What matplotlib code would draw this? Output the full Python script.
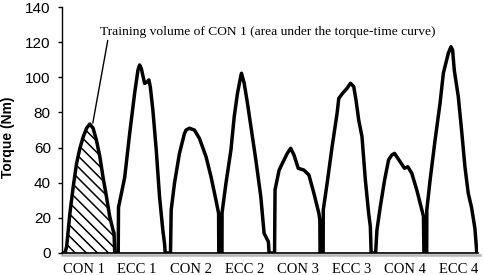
"""
Torque-time trace of 4 CON / ECC repetitions, training volume of CON 1 hatched.
Output: out.png
"""
import matplotlib
matplotlib.use("Agg")
import matplotlib.pyplot as plt
import numpy as np
from matplotlib.transforms import offset_copy

# ── Data: time (samples) and torque (Nm) per repetition ──────────────────────
con1_t  = [3, 4.7, 8, 11.3, 14.7, 18, 21.3, 24.7, 28, 31.3, 34.7, 38, 41.3, 44.7, 48, 51.3, 52.3, 53]
con1_nm = [0, 3.6, 22.7, 37.7, 51, 59.6, 66, 71, 73.4, 71, 64, 55, 43, 32, 20.7, 13, 11.4, 0]

ecc1_t  = [56.5, 56.8, 63, 68, 73, 76.3, 78, 79.7, 81.3, 83, 85.7, 87.3, 88.7, 91.3, 94.7, 98, 101.3, 103, 103.7]
ecc1_nm = [0, 26, 43, 68, 91, 104, 107, 105, 101, 96.5, 97.5, 98.5, 94.7, 81.4, 58.6, 32, 13, 5.5, 0]

con2_t  = [109, 109.7, 113, 118, 123, 124.7, 128, 133, 138, 144.7, 149.7, 154.7, 157.3, 157.5]
con2_nm = [0, 24.5, 39.7, 56.7, 68, 70, 71, 70, 65.3, 54.8, 43.4, 30, 22.6, 0]

ecc2_t  = [160.7, 160.8, 164.7, 169.7, 173, 176.3, 179.7, 180.3, 183, 186.3, 189.7, 194.7, 199.7, 203, 207.3, 208]
ecc2_nm = [0, 23, 39.7, 58.6, 77.6, 91, 101, 102.3, 96.6, 85.2, 72, 53, 32, 11.2, 6.4, 0]

con3_t  = [213.5, 214, 218, 221.3, 226.3, 229.7, 233, 237.3, 243, 248, 253, 258, 259, 259.2]
con3_nm = [0, 36, 47, 51, 56.7, 59.6, 55.8, 48.2, 47.2, 44.4, 34, 22.6, 18.8, 0]

ecc3_t  = [262.3, 262.4, 266.3, 271.3, 276.3, 278, 282, 286.3, 289.7, 293, 295.3, 298, 301.3, 304.7, 308, 309.7, 310.5]
ecc3_nm = [0, 24.5, 39.7, 60.5, 79.5, 88, 91, 93.7, 96.6, 94.7, 87, 75.7, 66.2, 41.5, 22.6, 15, 0]

con4_t  = [315, 316.3, 319.7, 324, 328, 331.3, 334, 337.3, 340.7, 344, 347.3, 351.3, 356.3, 359.7, 363, 363.5]
con4_nm = [0, 13, 26.4, 41.5, 53, 55.8, 56.7, 53.9, 51, 48.2, 49.1, 45.4, 35.9, 28.3, 21, 0]

ecc4_t  = [366.3, 366.4, 369.7, 374.7, 379.7, 383, 386.3, 388, 390.7, 392.3, 394, 398, 401.3, 404.7, 408, 411.3, 414.7, 416.5]
ecc4_nm = [0, 24.5, 41.5, 64.3, 85.2, 102.3, 109.8, 113.7, 117.4, 115.5, 104, 89, 70, 49, 34, 26, 14, 1]

reps = [(con1_t, con1_nm), (ecc1_t, ecc1_nm), (con2_t, con2_nm), (ecc2_t, ecc2_nm),
        (con3_t, con3_nm), (ecc3_t, ecc3_nm), (con4_t, con4_nm), (ecc4_t, ecc4_nm)]

rep_labels   = ["CON 1", "ECC 1", "CON 2", "ECC 2", "CON 3", "ECC 3", "CON 4", "ECC 4"]
rep_label_at = [22, 75, 130, 183, 237, 291, 344, 398]

t  = np.concatenate([[0]] + [r[0] for r in reps])
nm = np.concatenate([[0]] + [r[1] for r in reps])

# ── Figure ───────────────────────────────────────────────────────────────────
plt.rcParams["hatch.linewidth"] = 1.1
fig = plt.figure(figsize=(4.84, 2.75), dpi=100)
ax = fig.add_axes([0.128, 0.08, 0.86, 0.8945])

# training volume of CON 1
ax.fill_between(con1_t, con1_nm, 0, facecolor="white", edgecolor="black",
                hatch="\\\\\\", linewidth=0, zorder=2)
ax.plot(t, nm, color="black", lw=2.5, solid_joinstyle="round", zorder=3)

ax.set_xlim(0, 418)
ax.set_ylim(0, 140)
ax.set_yticks(np.arange(0, 141, 20))
ax.set_xticks(rep_label_at)
ax.set_xticklabels(rep_labels, family="Liberation Serif", fontsize=10.5)
ax.tick_params(axis="x", length=0, pad=7)
ax.tick_params(axis="y", direction="out", length=3, width=1, pad=5, labelsize=11)
for lb in ax.get_yticklabels():
    lb.set_family("Liberation Sans")

ax.set_ylabel("Torque (Nm)", family="Liberation Sans", fontsize=10, fontweight="bold")
ax.yaxis.set_label_coords(-0.113, 0.47)

for s in ("top", "right"):
    ax.spines[s].set_visible(False)
ax.spines["left"].set_linewidth(1.0)
ax.spines["bottom"].set_linewidth(1.2)

# grey shadow under the time axis
shadow = offset_copy(ax.transAxes, fig=fig, x=0, y=-2, units="dots")
ax.plot([0, 1.005], [0, 0], transform=shadow, color="#b4b4b4", lw=1.8,
        clip_on=False, zorder=1)

# annotation
ax.annotate("", xy=(31, 74), xytext=(46, 121),
            arrowprops=dict(arrowstyle="-", color="black", lw=1.0,
                            shrinkA=0, shrinkB=0), zorder=4)
ax.text(38, 126, "Training volume of CON 1 (area under the torque-time curve)",
        family="Liberation Serif", fontsize=9.7, ha="left", va="center")

fig.savefig("out.png", dpi=100, facecolor="white")
plt.close(fig)
